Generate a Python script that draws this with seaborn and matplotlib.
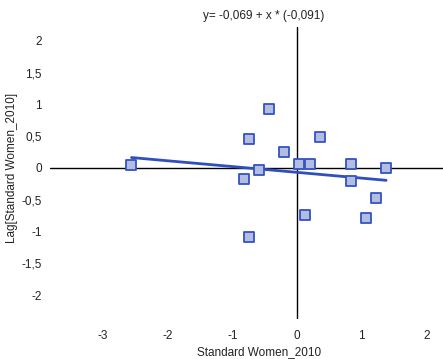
import numpy as np
import pandas as pd
import matplotlib
matplotlib.use("Agg")
import matplotlib.pyplot as plt
import seaborn as sns

# values
women_2010 = [-2.56, -0.43, -0.74, -0.20, 0.36, 0.03, 0.20, 0.83, 1.38,
              -0.82, -0.59, 0.83, 1.23, 0.12, 1.07, -0.74]
lag_women_2010 = [0.05, 0.93, 0.45, 0.25, 0.48, 0.06, 0.06, 0.06, 0.00,
                  -0.18, -0.04, -0.20, -0.47, -0.74, -0.79, -1.09]
intercept = -0.069
slope = -0.091
x_ticks = [-3, -2, -1, 0, 1, 2]
y_ticks = [2, 1.5, 1, 0.5, 0, -0.5, -1, -1.5, -2]

df = pd.DataFrame({"x": women_2010, "y": lag_women_2010})

sns.set_style("white")
plt.rcParams["font.family"] = ["Liberation Sans", "DejaVu Sans"]

fig = plt.figure(figsize=(4.43, 3.59), dpi=100)
ax = fig.add_axes([0.113, 0.111, 0.887, 0.814])

ax.axhline(0, color="black", lw=1, zorder=1)
ax.axvline(0, color="black", lw=1, zorder=1)

# fitted line over the data range
xs = np.array([df["x"].min(), df["x"].max()])
ax.plot(xs, intercept + slope * xs, color="#2f4fbf", lw=2, zorder=2)

sns.scatterplot(data=df, x="x", y="y", marker="s", s=60,
                color="#b3bde0", edgecolor="#3453c4", linewidth=1.3,
                ax=ax, zorder=3)

ax.set_xlim(-3.82, 2.26)
ax.set_ylim(-2.38, 2.22)
ax.set_xticks(x_ticks)
ax.set_yticks(y_ticks)
fmt = lambda v: ("%g" % v).replace(".", ",")
ax.set_xticklabels([fmt(v) for v in x_ticks])
ax.set_yticklabels([fmt(v) for v in y_ticks])
ax.tick_params(axis="both", length=0, labelsize=8.5, colors="#222222")
ax.tick_params(axis="x", pad=8)
ax.tick_params(axis="y", pad=6)
for sp in ax.spines.values():
    sp.set_visible(False)
ax.set_xlabel("")
ax.set_ylabel("")

fig.text(264 / 443, 1 - 16 / 359, "y= -0,069 + x * (-0,091)",
         ha="center", va="center", fontsize=8.5, color="#222222")
fig.text(259 / 443, 1 - 352 / 359, "Standard Women_2010",
         ha="center", va="center", fontsize=8.5, color="#222222")
fig.text(12 / 443, 1 - 168 / 359, "Lag[Standard Women_2010]",
         ha="center", va="center", rotation=90, fontsize=8.5, color="#222222")

fig.savefig("out.png", dpi=100)
